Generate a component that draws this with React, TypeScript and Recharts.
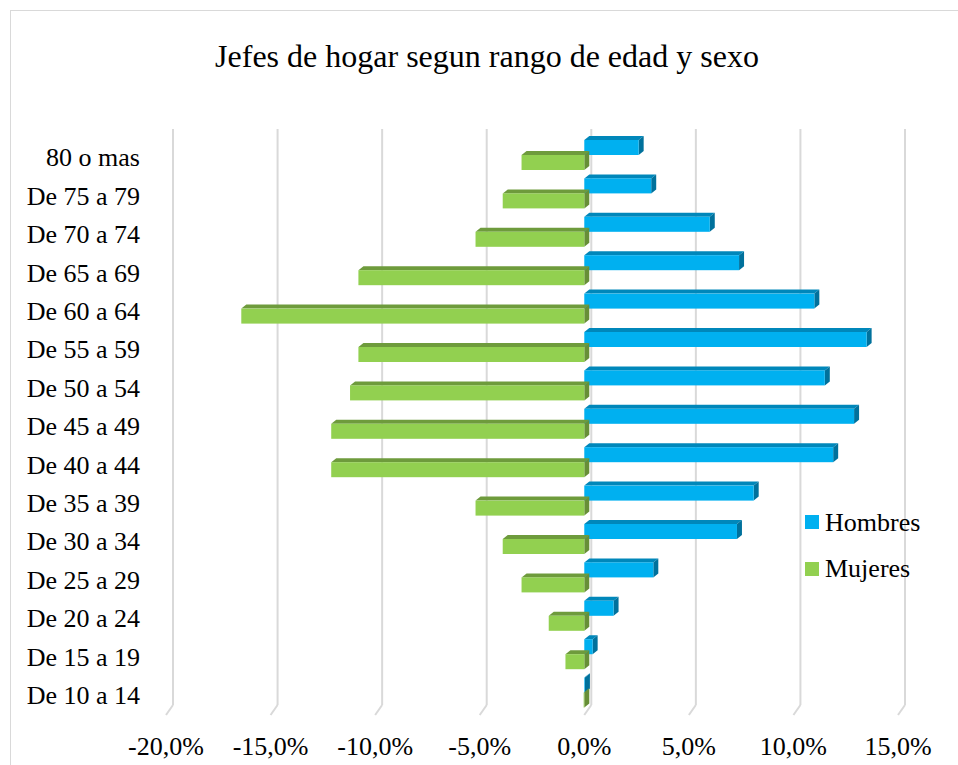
import { BarChart, Bar, XAxis, YAxis, CartesianGrid } from 'recharts';

const grupos = [
  '80 o mas',
  'De 75 a 79',
  'De 70 a 74',
  'De 65 a 69',
  'De 60 a 64',
  'De 55 a 59',
  'De 50 a 54',
  'De 45 a 49',
  'De 40 a 44',
  'De 35 a 39',
  'De 30 a 34',
  'De 25 a 29',
  'De 20 a 24',
  'De 15 a 19',
  'De 10 a 14',
];

const hombres = [2.6, 3.2, 6.0, 7.4, 11.0, 13.5, 11.5, 12.9, 11.9, 8.1, 7.3, 3.3, 1.4, 0.4, 0.03];
const mujeres = [-3.0, -3.9, -5.2, -10.8, -16.4, -10.8, -11.2, -12.1, -12.1, -5.2, -3.9, -3.0, -1.7, -0.9, -0.03];

const xTicks = [-20, -15, -10, -5, 0, 5, 10, 15];

const series = [
  { key: 'hombres', name: 'Hombres', front: '#00B0F0', top: '#0087BA', side: '#00719C' },
  { key: 'mujeres', name: 'Mujeres', front: '#92D050', top: '#6E9B3C', side: '#678F37' },
];

const rows = grupos.map((g, i) => ({ grupo: g, hombres: hombres[i], mujeres: mujeres[i] }));

const FONT = '"Liberation Serif", "Times New Roman", serif';
const DX = 5;
const DY = 4;

const make3dBar = (s: (typeof series)[number]) => (props: any) => {
  const { x, y, width, height } = props;
  const x0 = Math.min(x, x + width);
  const w = Math.abs(width);
  const h = height;
  return (
    <g>
      <polygon
        points={`${x0},${y} ${x0 + DX},${y - DY} ${x0 + w + DX},${y - DY} ${x0 + w},${y}`}
        fill={s.top}
      />
      <polygon
        points={`${x0 + w},${y} ${x0 + w + DX},${y - DY} ${x0 + w + DX},${y + h - DY} ${x0 + w},${y + h}`}
        fill={s.side}
      />
      <rect x={x0} y={y} width={w} height={h} fill={s.front} />
    </g>
  );
};

const gridLine = (props: any) => {
  const { x1, y1, y2 } = props;
  return (
    <g key={`g-${x1}`}>
      <line x1={x1 + 7} y1={y1 - 7} x2={x1 + 7} y2={y2 - 7} stroke="#d9d9d9" strokeWidth={2} />
      <line x1={x1 + 7} y1={y2 - 7} x2={x1} y2={y2 + 3} stroke="#d9d9d9" strokeWidth={2} />
    </g>
  );
};

const CatTick = (props: any) => {
  const { x, y, payload } = props;
  return (
    <text x={x} y={y + 2} dy="0.355em" textAnchor="end" fontFamily={FONT} fontSize={26} fill="#000">
      {payload.value}
    </text>
  );
};

const fmt = (v: number) => `${v.toFixed(1).replace('.', ',')}%`;

export default function App() {
  return (
    <div style={{ position: 'fixed', left: 0, top: 0, width: 958, height: 765, overflow: 'hidden', background: '#fff' }}>
      <BarChart
        width={958}
        height={765}
        layout="vertical"
        data={rows}
        margin={{ top: 136, right: 60, bottom: 0, left: 0 }}
        barGap={0}
      >
        <CartesianGrid horizontal={false} vertical={gridLine} />
        <XAxis
          type="number"
          domain={[-20, 15]}
          ticks={xTicks}
          tickFormatter={fmt}
          height={53}
          axisLine={false}
          tickLine={false}
          tickSize={0}
          tickMargin={25}
          tick={{ fontFamily: FONT, fontSize: 26, fill: '#000' }}
          interval={0}
        />
        <YAxis
          type="category"
          dataKey="grupo"
          width={166}
          axisLine={false}
          tickLine={false}
          tickSize={0}
          tickMargin={26}
          interval={0}
          tick={<CatTick />}
        />
        {series.map((s) => (
          <Bar key={s.key} dataKey={s.key} name={s.name} barSize={15} shape={make3dBar(s)} isAnimationActive={false} />
        ))}
      </BarChart>
      <svg width={958} height={765} style={{ position: 'absolute', left: 0, top: 0, pointerEvents: 'none' }}>
        <rect x={10.5} y={10.5} width={960} height={770} fill="none" stroke="#d9d9d9" strokeWidth={1} />
        <text x={487} y={67} textAnchor="middle" fontFamily={FONT} fontSize={32} fill="#000">
          Jefes de hogar segun rango de edad y sexo
        </text>
        {series.map((s, i) => (
          <g key={s.key}>
            <rect x={805} y={515 + i * 47} width={14} height={14} fill={s.front} />
            <text x={825} y={531 + i * 46} fontFamily={FONT} fontSize={26} fill="#000">
              {s.name}
            </text>
          </g>
        ))}
      </svg>
    </div>
  );
}
